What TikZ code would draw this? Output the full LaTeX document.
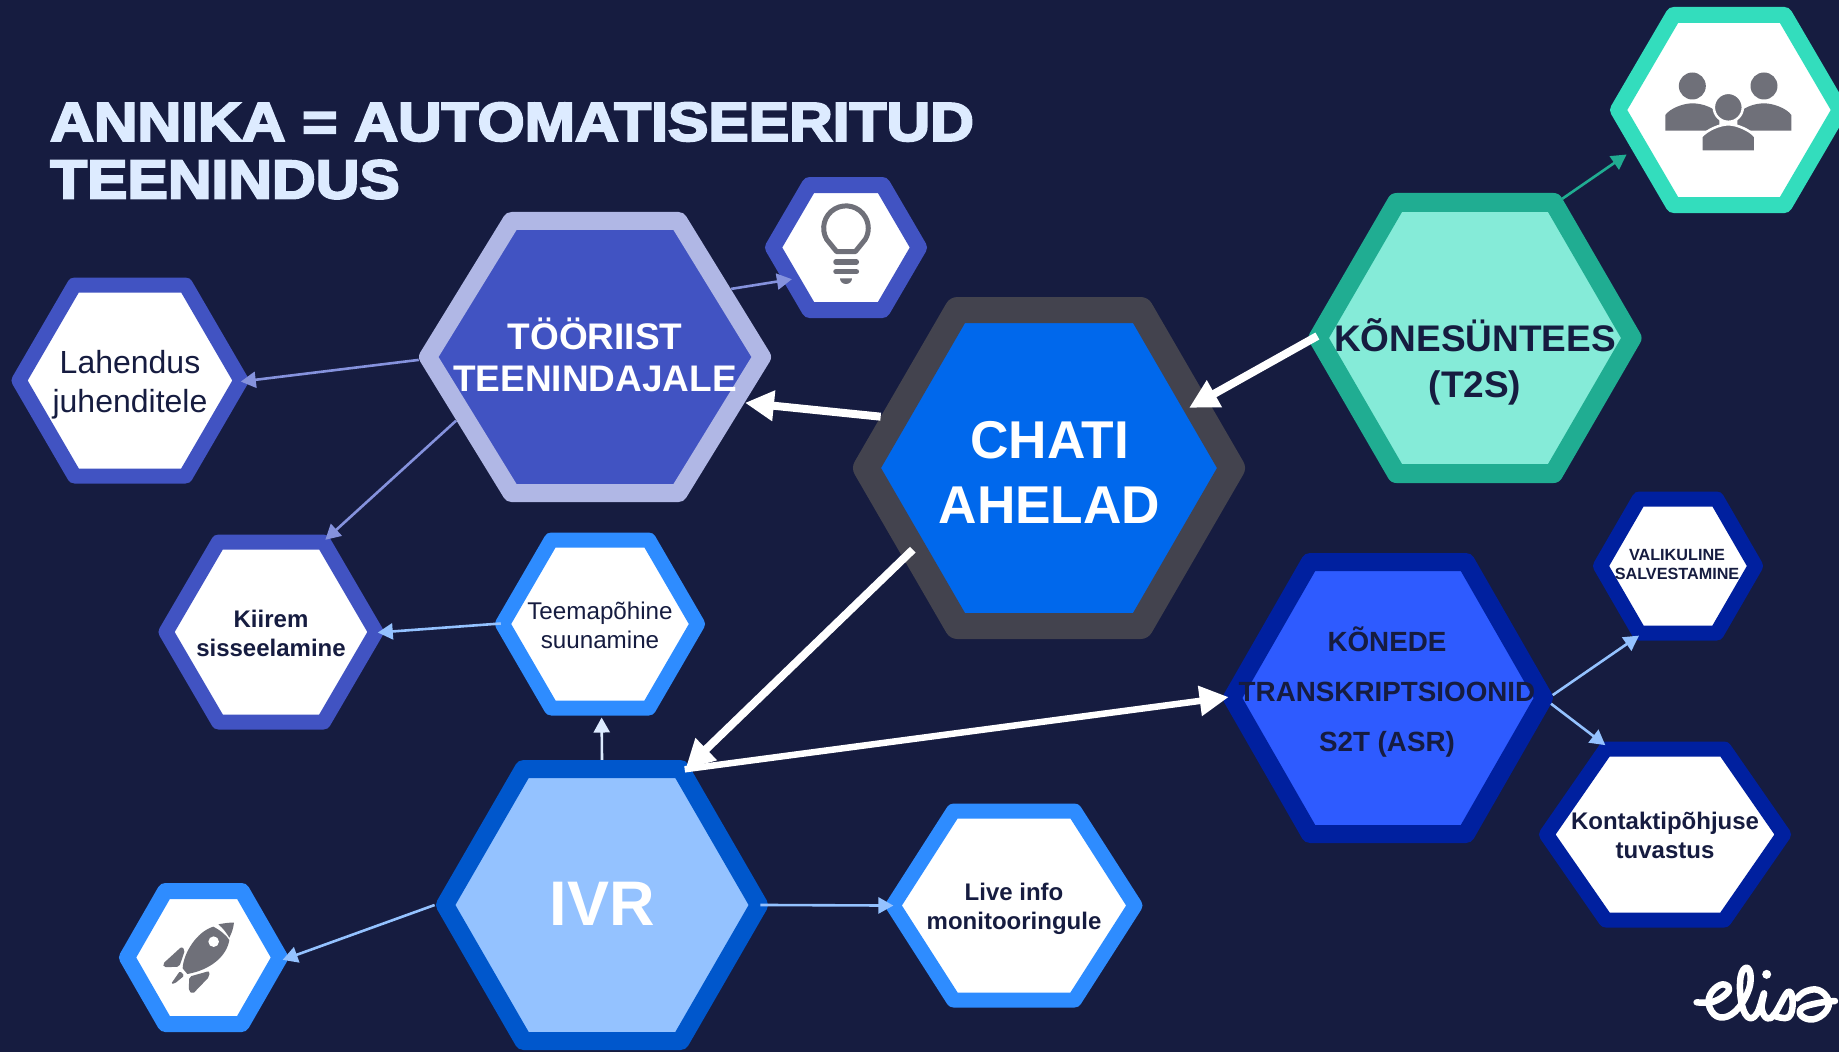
\documentclass[tikz,border=0pt]{standalone}
\usepackage{fontspec}
\setmainfont{Liberation Sans}
\newfontfamily\titlefont[FakeBold=4,FakeStretch=1.11]{Liberation Sans Bold}
\usetikzlibrary{shapes.geometric}
\usetikzlibrary{arrows.meta}
\usetikzlibrary{positioning}
\definecolor{navy}{HTML}{161C40}
\definecolor{titlecol}{HTML}{DDEBFF}
\definecolor{chatedge}{HTML}{43434E}
\definecolor{chatfill}{HTML}{0068EC}
\definecolor{tooledge}{HTML}{B0B7E5}
\definecolor{toolfill}{HTML}{4153C2}
\definecolor{toolarrow}{HTML}{8592DD}
\definecolor{voiceedge}{HTML}{20AD92}
\definecolor{voicefill}{HTML}{85EBD8}
\definecolor{peopleedge}{HTML}{33DDBD}
\definecolor{speechedge}{HTML}{00209F}
\definecolor{speechfill}{HTML}{2E5BFF}
\definecolor{ivredge}{HTML}{0057CC}
\definecolor{ivrfill}{HTML}{94C2FF}
\definecolor{skyedge}{HTML}{2E8CFF}
\definecolor{icongrey}{HTML}{6F7079}
\newcommand{\fsz}[2]{\fontsize{#1}{#2}\selectfont}
\tikzset{hexa/.style n args={3}{draw,regular polygon,regular polygon sides=6,
		line join=round,inner sep=0pt,line width=#3pt,
		minimum size={(#2-#3)/0.866*1pt},xscale={(#1-#3)/((#2-#3)/0.866)}},
	lbl/.style={align=center,inner sep=0pt,text=navy},
	thick arr/.style={draw=white,line width=8pt,-{Triangle[length=29pt,width=29pt]}},
	thin arr/.style={line width=2.6pt,-{Triangle[length=15pt,width=16pt]}},
	icon/.style={fill=icongrey,draw=none},
	zoomed/.style={shift={#1},x=0.3333pt,y=-0.3333pt}}

\begin{document}
\begin{tikzpicture}[x=1pt,y=-1pt]
	\fill [navy] (0,0) rectangle (1839,1052);
	\useasboundingbox (0,0) rectangle (1839,1052);
	% title
	\node [anchor=base west,inner sep=0pt,text=titlecol,font=\titlefont\fsz{54.5}{57.6}] (titleone) at (50,140.7) {ANNIKA = AUTOMATISEERITUD};
	\node [anchor=base west,inner sep=0pt,text=titlecol,font=\titlefont\fsz{54.5}{57.6}] (titletwo) at (50,198.3) {TEENINDUS};
	% hexagons
	\node [hexa={392}{342}{26},draw=chatedge,fill=chatfill] (chat) at (1049,468) {};
	\node [hexa={352}{290}{18},draw=tooledge,fill=toolfill] (tool) at (595,357) {};
	\node [hexa={237}{206}{15},draw=toolfill,fill=white] (guide) at (130,380.5) {};
	\node [hexa={162}{141}{16},draw=toolfill,fill=white] (bulb) at (846,247.5) {};
	\node [hexa={225}{195}{15},draw=toolfill,fill=white] (login) at (271,632) {};
	\node [hexa={210}{183}{15},draw=skyedge,fill=white] (topic) at (600,624) {};
	\node [hexa={332}{290}{18},draw=ivredge,fill=ivrfill] (ivr) at (602,905) {};
	\node [hexa={257}{204}{15},draw=skyedge,fill=white] (live) at (1014,905.5) {};
	\node [hexa={169}{149}{16},draw=skyedge,fill=white] (rocket) at (203.5,957.5) {};
	\node [hexa={333}{290}{19},draw=voiceedge,fill=voicefill] (voice) at (1475,338) {};
	\node [hexa={238}{206}{16},draw=peopleedge,fill=white] (people) at (1729,110) {};
	\node [hexa={330}{290}{18},draw=speechedge,fill=speechfill] (speech) at (1388,698) {};
	\node [hexa={170}{149}{15},draw=speechedge,fill=white] (record) at (1678,566) {};
	\node [hexa={252}{186}{15},draw=speechedge,fill=white] (reason) at (1665,834.5) {};
	% connectors
	\draw [thick arr] (chat.163) -- (tool.-18.5);
	\draw [thick arr,shorten <=-10pt,shorten >=-20pt] (voice.181) -- (chat.24);
	\draw [thick arr,shorten <=-13pt,shorten >=-5pt] (chat.212.7) -- (ivr.58);
	\draw [thick arr,line width=6.5pt,shorten <=-6pt,shorten >=-7pt] (ivr.57.5) -- (speech.180);
	\draw [thin arr,draw=toolarrow,shorten >=-9pt] (tool.28.7) -- (bulb.208.6);
	\draw [thin arr,draw=toolarrow,shorten >=-9pt] (tool.181) -- (guide.0);
	\draw [thin arr,draw=toolarrow,shorten >=-5pt] (tool.206.6) -- (login.59.3);
	\draw [thin arr,draw=ivrfill,shorten <=-7pt,shorten >=-7pt] (topic.180) -- (login.0);
	\draw [thin arr,draw=titlecol,shorten >=2pt] (ivr.90) -- (topic.-89);
	\draw [thin arr,draw=ivrfill,shorten >=-7pt] (ivr.180) -- (rocket.0);
	\draw [thin arr,draw=ivrfill,shorten <=-9pt,shorten >=-10pt] (ivr.0) -- (live.180);
	\draw [thin arr,draw=voiceedge,shorten >=7pt] (voice.58) -- (people.203);
	\draw [thin arr,draw=ivrfill,shorten >=-6pt] (speech.1) -- (record.239.5);
	\draw [thin arr,draw=ivrfill,shorten >=-6pt] (speech.-2) -- (reason.120);
	% labels
	\node [lbl,text=white,font=\bfseries\fsz{53.2}{64.5}] (chattext) at (1049.5,472.5) {CHATI\\AHELAD};
	\node [lbl,text=white,font=\bfseries\fsz{37}{42}] (tooltext) at (595,354.5) {TÖÖRIIST\\TEENINDAJALE};
	\node [lbl,font=\fsz{32}{39}] (guidetext) at (130,384.5) {Lahendus\\juhenditele};
	\node [lbl,font=\bfseries\fsz{24}{29}] (logintext) at (271,633) {Kiirem\\sisseelamine};
	\node [lbl,font=\fsz{24.2}{29}] (topictext) at (600,625.6) {Teemapõhine\\suunamine};
	\node [lbl,text=white,font=\bfseries\fsz{63}{70}] (ivrtext) at (602,904) {IVR};
	\node [lbl,font=\bfseries\fsz{24}{29}] (livetext) at (1014,908.5) {Live info\\monitooringule};
	\node [lbl,font=\bfseries\fsz{37}{46}] (voicetext) at (1475,362) {KÕNESÜNTEES\\(T2S)};
	\node [lbl,font=\bfseries\fsz{27.8}{50}] (speechtext) at (1387,692) {KÕNEDE\\TRANSKRIPTSIOONID\\S2T (ASR)};
	\node [lbl,font=\bfseries\fsz{16.2}{19}] (recordtext) at (1677,564.5) {VALIKULINE\\SALVESTAMINE};
	\node [lbl,font=\bfseries\fsz{24}{29}] (reasontext) at (1665,835.6) {Kontaktipõhjuse\\tuvastus};
	% people icon
	\begin{scope}[zoomed={(1560,0)}]
		\fill [icon] (397,258) circle [radius=13.5pt];
		\fill [icon] (612,258) circle [radius=13.5pt];
		\fill [icon] (316,392)--(316,345) .. controls (330,325) and (370,310) .. (397,310) .. controls (430,310) and (465,325) .. (478,345)--(478,392)--cycle;
		\fill [icon] (694,392)--(694,345) .. controls (680,325) and (640,310) .. (612,310) .. controls (580,310) and (545,325) .. (532,345)--(532,392)--cycle;
		\filldraw [fill=icongrey,draw=white,line width=2.5pt] (505,322) circle [radius=14.5pt];
		\filldraw [fill=icongrey,draw=white,line width=2.5pt] (424,455)--(424,410) .. controls (440,390) and (480,373) .. (505,373) .. controls (530,373) and (570,390) .. (586,410)--(586,455)--cycle;
	\end{scope}
	% bulb icon
	\begin{scope}[zoomed={(740,160)}]
		\draw [icongrey,line width=5pt,line join=round] (290,275)--(260,238) arc [start angle=210,end angle=-30,radius=22.3pt]--(346,275)--cycle;
		\draw [icongrey,line width=5.5pt,line cap=round] (288,306)--(349,306);
		\draw [icongrey,line width=5.5pt,line cap=round] (288,335)--(349,335);
		\fill [icon] (300,355)--(336,355) .. controls (336,365) and (328,372) .. (318,372) .. controls (308,372) and (300,365) .. (300,355);
	\end{scope}
	% rocket icon
	\begin{scope}[zoomed={(100,860)}]
		\fill [icon] (340,200) .. controls (365,213) and (380,228) .. (388,240) .. controls (380,290) and (330,330) .. (262,342)--(248,325) .. controls (250,280) and (290,215) .. (340,200);
		\fill [icon] (355,193) .. controls (370,190) and (390,187) .. (402,188) .. controls (400,205) and (395,220) .. (388,233) .. controls (380,220) and (370,205) .. (355,193);
		\fill [white] (341,245) circle [radius=5.3pt];
		\fill [icon,rounded corners=2pt] (188,312)--(245,260)--(255,270)--(238,320)--(192,322)--cycle;
		\fill [icon,rounded corners=2pt] (268,350)--(328,333)--(328,350)--(278,402)--(266,392)--cycle;
		\fill [icon,rounded corners=1.5pt] (213,372)--(240,333)--(253,347)--(225,370)--cycle;
	\end{scope}
	% logo
	\begin{scope}[zoomed={(1660,940)}]
		\draw [white,line width=6.5pt,line cap=round,line join=round] plot [smooth,tension=0.7] coordinates {(110,187) (160,185) (200,160) (205,140) (180,135) (150,165) (150,205) (180,232) (225,215) (262,160) (272,110) (260,83) (242,110) (243,180) (262,230) (290,222) (312,160) (305,205) (322,235) (345,220) (385,155) (398,190) (385,232) (345,228)};
		\draw [white,line width=6.5pt,line cap=round,line join=round] plot [smooth,tension=0.7] coordinates {(525,183) (470,190) (425,205) (425,228) (460,238) (497,215) (505,180) (475,150) (435,155) (412,175)};
		\fill [white] (320,103) circle [radius=4.5pt];
	\end{scope}
\end{tikzpicture}
\end{document}
